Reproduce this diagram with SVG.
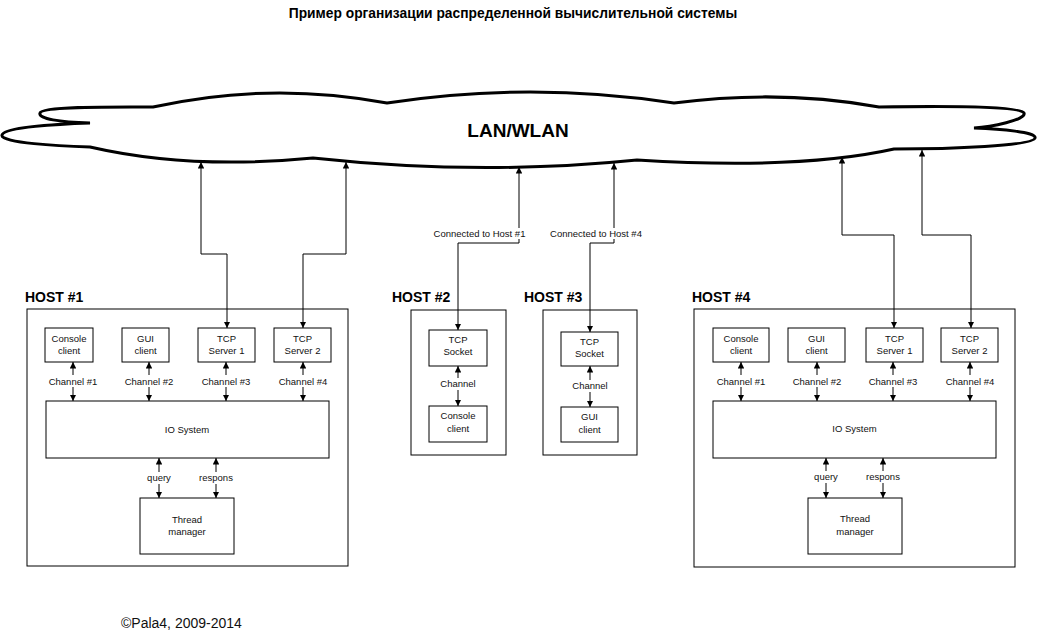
<svg xmlns="http://www.w3.org/2000/svg" width="1037" height="633" viewBox="0 0 1037 633">
<style>
  .box{fill:#fff;stroke:#000;stroke-width:1}
  .t{font-family:"Liberation Sans",Arial,sans-serif;font-size:9.5px;fill:#111;text-anchor:middle}
  .h{font-family:"Liberation Sans",Arial,sans-serif;font-size:14px;font-weight:bold;fill:#000}
  .c{fill:none;stroke:#000;stroke-width:1;marker-start:url(#arr);marker-end:url(#arr)}
  .bg{fill:#fff;stroke:none}
</style>
<defs>
  <marker id="arr" viewBox="0 0 10 10" refX="10" refY="5" markerWidth="6.5" markerHeight="6.5" orient="auto-start-reverse">
    <path d="M0,0 L10,5 L0,10 z" fill="#000"/>
  </marker>
</defs>
<rect width="1037" height="633" fill="#fff"/>
<text x="513" y="18" text-anchor="middle" style="font-family:'Liberation Sans',Arial,sans-serif;font-size:13.8px;font-weight:bold">Пример организации распределенной вычислительной системы</text>

<g id="cloud">
  <path d="M153,107 Q270,81 387,103 Q530,81 674,103 Q780,89 879,107 C940,106 1020,106 1024,113 C1027,120 990,127 974,128 C1000,129 1037,132 1035,138 C1033,146 950,149 894,149 Q800,170 637,160 Q480,176 313,158 Q190,170 90,147 C60,146 0,143 2,135 C4,127 60,124 90,123 C60,122 38,119 40,113 C42,106 120,107 153,107 Z" fill="#fff" stroke="#000" stroke-width="3" stroke-linejoin="miter"/>
  <text x="518" y="137" text-anchor="middle" style="font-family:'Liberation Sans',Arial,sans-serif;font-size:19px;font-weight:bold">LAN/WLAN</text>
</g>

<g id="host1">
  <text class="h" x="25" y="302">HOST #1</text>
  <rect class="box" x="27" y="309" width="321" height="257"/>
</g>
<g id="host1-console"><rect class="box" x="45" y="328" width="48" height="34"/><text class="t" x="69" y="342">Console</text><text class="t" x="69" y="354">client</text></g>
<g id="host1-gui"><rect class="box" x="122" y="328" width="47" height="34"/><text class="t" x="145.5" y="342">GUI</text><text class="t" x="145.5" y="354">client</text></g>
<g id="host1-tcp1"><rect class="box" x="198" y="328" width="57" height="34"/><text class="t" x="226.5" y="342">TCP</text><text class="t" x="226.5" y="354">Server 1</text></g>
<g id="host1-tcp2"><rect class="box" x="274" y="328" width="57" height="34"/><text class="t" x="302.5" y="342">TCP</text><text class="t" x="302.5" y="354">Server 2</text></g>
<g id="host1-io"><rect class="box" x="46" y="401" width="283" height="57"/><text class="t" x="187" y="433">IO System</text></g>
<g id="host1-thread"><rect class="box" x="140" y="498" width="94" height="56"/><text class="t" x="187" y="523">Thread</text><text class="t" x="187" y="535">manager</text></g>

<g id="host2">
  <text class="h" x="392" y="302">HOST #2</text>
  <rect class="box" x="411" y="310" width="95" height="145"/>
</g>
<g id="host2-socket"><rect class="box" x="429" y="330" width="58" height="36"/><text class="t" x="458" y="343">TCP</text><text class="t" x="458" y="355">Socket</text></g>
<g id="host2-console"><rect class="box" x="429" y="406" width="58" height="36"/><text class="t" x="458" y="419">Console</text><text class="t" x="458" y="432">client</text></g>

<g id="host3">
  <text class="h" x="524" y="302">HOST #3</text>
  <rect class="box" x="543" y="310" width="94" height="145"/>
</g>
<g id="host3-socket"><rect class="box" x="561" y="332" width="57" height="34"/><text class="t" x="589.5" y="345">TCP</text><text class="t" x="589.5" y="357">Socket</text></g>
<g id="host3-gui"><rect class="box" x="561" y="407" width="57" height="35"/><text class="t" x="589.5" y="420">GUI</text><text class="t" x="589.5" y="433">client</text></g>

<g id="host4">
  <text class="h" x="692" y="302">HOST #4</text>
  <rect class="box" x="694" y="309" width="321" height="258"/>
</g>
<g id="host4-console"><rect class="box" x="713" y="328" width="56" height="34"/><text class="t" x="741" y="342">Console</text><text class="t" x="741" y="354">client</text></g>
<g id="host4-gui"><rect class="box" x="788" y="328" width="57" height="34"/><text class="t" x="816.5" y="342">GUI</text><text class="t" x="816.5" y="354">client</text></g>
<g id="host4-tcp1"><rect class="box" x="866" y="328" width="57" height="34"/><text class="t" x="894.5" y="342">TCP</text><text class="t" x="894.5" y="354">Server 1</text></g>
<g id="host4-tcp2"><rect class="box" x="941" y="328" width="57" height="34"/><text class="t" x="969.5" y="342">TCP</text><text class="t" x="969.5" y="354">Server 2</text></g>
<g id="host4-io"><rect class="box" x="713" y="401" width="283" height="57"/><text class="t" x="854.5" y="432">IO System</text></g>
<g id="host4-thread"><rect class="box" x="808" y="498" width="94" height="56"/><text class="t" x="855" y="522">Thread</text><text class="t" x="855" y="535">manager</text></g>

<g id="connectors">
  <path class="c" d="M201,162 V254 H227 V328"/>
  <path class="c" d="M346,162 V254 H303 V328"/>
  <path class="c" d="M519,167 V243 H458 V330"/>
  <path class="c" d="M614,163 V243 H590 V332"/>
  <path class="c" d="M842,157 V235 H894 V328"/>
  <path class="c" d="M922,150 V235 H971 V328"/>
  <rect class="bg" x="430" y="228" width="99" height="11"/>
  <text class="t" x="479.5" y="237">Connected to Host #1</text>
  <rect class="bg" x="548" y="228" width="97" height="11"/>
  <text class="t" x="596" y="237">Connected to Host #4</text>

  <path class="c" d="M73,362 V401"/><path class="c" d="M149,362 V401"/><path class="c" d="M226,362 V401"/><path class="c" d="M303,362 V401"/>
  <rect class="bg" x="47" y="375" width="52" height="12"/><text class="t" x="73" y="385">Channel #1</text>
  <rect class="bg" x="123" y="375" width="52" height="12"/><text class="t" x="149" y="385">Channel #2</text>
  <rect class="bg" x="200" y="375" width="52" height="12"/><text class="t" x="226" y="385">Channel #3</text>
  <rect class="bg" x="277" y="375" width="52" height="12"/><text class="t" x="303" y="385">Channel #4</text>
  <path class="c" d="M159,458 V498"/><path class="c" d="M216,458 V498"/>
  <rect class="bg" x="144" y="472" width="30" height="12"/><text class="t" x="159" y="481">query</text>
  <rect class="bg" x="196" y="472" width="40" height="12"/><text class="t" x="216" y="481">respons</text>

  <path class="c" d="M458,366 V406"/>
  <rect class="bg" x="438" y="378" width="40" height="12"/><text class="t" x="458" y="387">Channel</text>
  <path class="c" d="M590,366 V407"/>
  <rect class="bg" x="570" y="380" width="40" height="12"/><text class="t" x="590" y="389">Channel</text>

  <path class="c" d="M741,362 V401"/><path class="c" d="M817,362 V401"/><path class="c" d="M893,362 V401"/><path class="c" d="M970,362 V401"/>
  <rect class="bg" x="715" y="375" width="52" height="12"/><text class="t" x="741" y="385">Channel #1</text>
  <rect class="bg" x="791" y="375" width="52" height="12"/><text class="t" x="817" y="385">Channel #2</text>
  <rect class="bg" x="867" y="375" width="52" height="12"/><text class="t" x="893" y="385">Channel #3</text>
  <rect class="bg" x="944" y="375" width="52" height="12"/><text class="t" x="970" y="385">Channel #4</text>
  <path class="c" d="M826,458 V498"/><path class="c" d="M883,458 V498"/>
  <rect class="bg" x="811" y="471" width="30" height="12"/><text class="t" x="826" y="480">query</text>
  <rect class="bg" x="863" y="471" width="40" height="12"/><text class="t" x="883" y="480">respons</text>
</g>

<text x="121" y="628" style="font-family:'Liberation Sans',Arial,sans-serif;font-size:14px;fill:#111">©Pala4, 2009-2014</text>
</svg>
